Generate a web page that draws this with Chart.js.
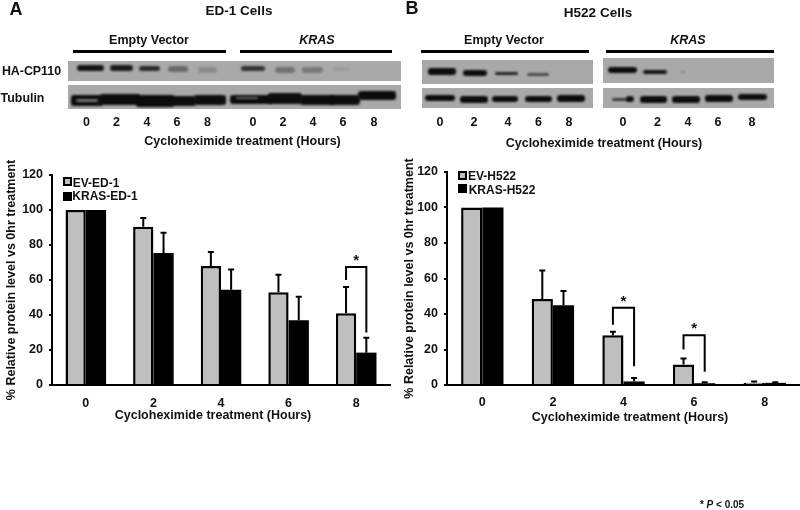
<!DOCTYPE html>
<html>
<head>
<meta charset="utf-8">
<script src="https://cdn.jsdelivr.net/npm/chart.js@4"></script>
<style>
  html, body { margin: 0; padding: 0; background: #fff; }
  #page { position: relative; width: 800px; height: 510px; overflow: hidden; filter: blur(0.4px);
    font-family: "Liberation Sans", Arial, sans-serif; font-weight: bold; color: #111; }
  #page canvas { position: absolute; }
  .txt { position: absolute; white-space: nowrap; transform: translate(-50%, -50%); }
  .strip { position: absolute; background: #a9a9a9; overflow: hidden; }
  .band { position: absolute; background: #0c0c0c; border-radius: 3px; filter: blur(1px); }
  .rule { position: absolute; height: 3px; background: #000; }
  .key { position: absolute; width: 5px; height: 5px; border: 2px solid #000; }
</style>
</head>
<body>
<div id="page">
  <canvas id="chartA" width="400" height="270" style="left:0;top:150px"></canvas>
  <canvas id="chartB" width="400" height="270" style="left:400px;top:150px"></canvas>
</div>
<script>
  const hours = ["0", "2", "4", "6", "8"];
  const seriesNamesA = ["EV-ED-1", "KRAS-ED-1"];
  const seriesNamesB = ["EV-H522", "KRAS-H522"];

  const evEd1 = [100, 90.5, 68, 53, 41];
  const krasEd1 = [100, 75.5, 54.5, 37, 18.5];
  const evEd1Top = [100, 95.5, 76, 63, 56];
  const krasEd1Top = [100, 87, 66, 50.5, 27];

  const evH522 = [100, 48.5, 28, 11.5, 1.2];
  const krasH522 = [100, 45, 2, 1, 1.2];
  const evH522Top = [100, 64.5, 30, 15, 2];
  const krasH522Top = [100, 53, 4, 1.5, 1.5];

  // significance brackets: category index, top, left foot, right foot (in % units)
  const bracketsA = [[4, 67.5, 60, 30]];
  const bracketsB = [[2, 43.5, 34, 10.5], [3, 28, 20, 7.5]];

  const page = document.getElementById("page");

  function addText(str, x, y, size, extra) {
    const el = document.createElement("div");
    el.className = "txt";
    el.innerHTML = str;
    el.style.left = x + "px";
    el.style.top = y + "px";
    el.style.fontSize = size + "px";
    if (extra) el.style.cssText += extra;
    page.appendChild(el);
  }

  function addStrip(x, y, w, h, bands) {
    const strip = document.createElement("div");
    strip.className = "strip";
    strip.style.cssText = `left:${x}px;top:${y}px;width:${w}px;height:${h}px`;
    bands.forEach(([bx, by, bw, bh, alpha, colour]) => {
      const b = document.createElement("div");
      b.className = "band";
      b.style.cssText = `left:${bx - x}px;top:${by - y}px;width:${bw}px;height:${bh}px;opacity:${alpha}`;
      if (colour) b.style.background = colour;
      strip.appendChild(b);
    });
    page.appendChild(strip);
  }

  function addRule(x, y, w) {
    const r = document.createElement("div");
    r.className = "rule";
    r.style.cssText = `left:${x}px;top:${y}px;width:${w}px`;
    page.appendChild(r);
  }

  function addKey(x, y, fill) {
    const k = document.createElement("div");
    k.className = "key";
    k.style.cssText = `left:${x}px;top:${y}px;background:${fill}`;
    page.appendChild(k);
  }

  // blots, panel A
  addStrip(68, 61, 333, 20, [
    [77, 65, 27, 6, 0.95], [110, 65, 23, 6, 0.9], [139, 66, 21, 5, 0.8], [168, 66, 20, 6, 0.4], [198, 67, 19, 6, 0.18],
    [241, 66, 24, 5, 0.75], [275, 67, 20, 6, 0.35], [302, 67, 21, 6, 0.3], [333, 67, 17, 4, 0.08]
  ]);
  addStrip(68, 85, 333, 24, [
    [71, 95, 32, 11, 1], [100, 94, 40, 11, 1], [136, 95, 38, 12, 1], [170, 96, 26, 10, 1], [194, 95, 32, 10, 1],
    [230, 95, 42, 9, 1], [268, 93, 34, 11, 1], [300, 95, 34, 10, 1], [330, 95, 30, 10, 1], [358, 91, 38, 9, 1],
    [76, 99, 22, 3, 0.8, "#8c8c8c"], [236, 97, 22, 2, 0.7, "#8c8c8c"]
  ]);
  // blots, panel B
  addStrip(422, 60, 171, 24, [
    [428, 68, 28, 7, 1], [463, 70, 24, 6, 1], [495, 72, 23, 3, 0.85], [527, 73, 22, 3, 0.6]
  ]);
  addStrip(603, 58, 171, 25, [
    [608, 67, 29, 6, 1], [643, 70, 24, 4, 0.95], [680, 71, 6, 2, 0.2]
  ]);
  addStrip(422, 88, 171, 20, [
    [425, 95, 30, 6, 1], [460, 96, 28, 7, 1], [492, 96, 26, 6, 1], [525, 96, 27, 6, 1], [557, 95, 28, 7, 1]
  ]);
  addStrip(603, 88, 171, 20, [
    [612, 98, 20, 3, 0.7], [626, 96, 8, 6, 0.9], [640, 96, 27, 7, 1], [672, 96, 28, 7, 1], [705, 95, 28, 7, 1], [738, 94, 29, 6, 1]
  ]);

  addRule(73, 50, 153);
  addRule(240, 50, 152);
  addRule(421, 50, 168);
  addRule(606, 50, 168);

  addText("A", 16, 9, 18);
  addText("B", 412, 8, 18);
  addText("ED-1 Cells", 239, 10, 13.5);
  addText("H522 Cells", 598, 12, 13.5);
  addText("Empty Vector", 149, 40, 12.5);
  addText("<i>KRAS</i>", 317, 40, 12.5);
  addText("Empty Vector", 504, 40, 12.5);
  addText("<i>KRAS</i>", 688, 40, 12.5);
  addText("HA-CP110", 31.5, 71, 12.4);
  addText("Tubulin", 22.5, 98, 12.4);

  [86.5, 116.5, 147, 177, 207.5, 253, 283, 313, 343, 374].forEach((x, i) => addText(hours[i % 5], x, 122, 12.5));
  [440, 474, 508, 538.6, 569, 623, 657.6, 688, 718, 752].forEach((x, i) => addText(hours[i % 5], x, 122, 12.5));

  addText("Cycloheximide treatment (Hours)", 242.5, 141, 12.5);
  addText("Cycloheximide treatment (Hours)", 604, 143, 12.5);
  addText("Cycloheximide treatment (Hours)", 213, 415, 12.5);
  addText("Cycloheximide treatment (Hours)", 630, 417, 12.5);
  addText("* <i>P</i> &lt; 0.05", 722, 504, 10);

  addKey(63, 177, "#bfbfbf");
  addKey(63, 192, "#000");
  addText(seriesNamesA[0], 96, 183, 12);
  addText(seriesNamesA[1], 105, 196, 12);
  addKey(458, 171, "#bfbfbf");
  addKey(458, 184, "#000");
  addText(seriesNamesB[0], 492, 176, 12);
  addText(seriesNamesB[1], 502, 190, 12);

  const errorBars = {
    id: "errorBars",
    afterDatasetsDraw(chart, args, opts) {
      const { ctx, scales: { y } } = chart;
      ctx.save();
      ctx.strokeStyle = "#000";
      ctx.lineWidth = 2;
      opts.tops.forEach((tops, d) => {
        chart.getDatasetMeta(d).data.forEach((bar, i) => {
          if (tops[i] <= chart.data.datasets[d].data[i]) return;
          const top = y.getPixelForValue(tops[i]);
          ctx.beginPath();
          ctx.moveTo(bar.x, bar.y);
          ctx.lineTo(bar.x, top);
          ctx.moveTo(bar.x - 3, top);
          ctx.lineTo(bar.x + 3, top);
          ctx.stroke();
        });
      });
      opts.brackets.forEach(([i, top, leftFoot, rightFoot]) => {
        const xl = chart.getDatasetMeta(0).data[i].x;
        const xr = chart.getDatasetMeta(1).data[i].x;
        ctx.beginPath();
        ctx.moveTo(xl, y.getPixelForValue(leftFoot));
        ctx.lineTo(xl, y.getPixelForValue(top));
        ctx.lineTo(xr, y.getPixelForValue(top));
        ctx.lineTo(xr, y.getPixelForValue(rightFoot));
        ctx.stroke();
        ctx.fillStyle = "#111";
        ctx.font = "bold 15px 'Liberation Sans'";
        ctx.textAlign = "center";
        ctx.textBaseline = "middle";
        ctx.fillText("*", (xl + xr) / 2, y.getPixelForValue(top) - 6);
      });
      ctx.restore();
    }
  };

  function makeChart(id, names, ev, kras, evTop, krasTop, brackets, box) {
    return new Chart(document.getElementById(id), {
      type: "bar",
      data: {
        labels: hours,
        datasets: [
          { label: names[0], data: ev, backgroundColor: "#bfbfbf", borderColor: "#000", borderWidth: 2.5 },
          { label: names[1], data: kras, backgroundColor: "#000", borderWidth: 0 }
        ]
      },
      options: {
        responsive: false,
        animation: false,
        categoryPercentage: 0.6,
        barPercentage: 1,
        layout: { padding: { left: 0, top: box.top, right: box.right, bottom: 0 } },
        plugins: {
          legend: { display: false },
          tooltip: { enabled: false },
          errorBars: { tops: [evTop, krasTop], brackets }
        },
        scales: {
          x: {
            grid: { display: false },
            border: { display: true, color: "#000", width: 2 },
            ticks: { color: "#111", padding: box.xPad, font: { size: 12.5, weight: "bold", family: "Liberation Sans" } },
            afterFit: (s) => { s.height = box.xHeight; }
          },
          y: {
            min: 0,
            max: 120,
            grid: { drawOnChartArea: false, color: "#000", lineWidth: 2, tickLength: 3 },
            border: { display: true, color: "#000", width: 2 },
            ticks: { stepSize: 20, color: "#111", padding: 6, font: { size: 12.5, weight: "bold", family: "Liberation Sans" } },
            title: {
              display: true,
              text: "% Relative protein level vs 0hr treatment",
              color: "#111",
              padding: { top: box.titlePad, bottom: 0 },
              font: { size: 12.5, weight: "bold", family: "Liberation Sans" }
            },
            afterFit: (s) => { s.width = box.yWidth; }
          }
        }
      },
      plugins: [errorBars]
    });
  }

  makeChart("chartA", seriesNamesA, evEd1, krasEd1, evEd1Top, krasEd1Top, bracketsA,
    { top: 25, right: 10, xHeight: 35, yWidth: 52, xPad: 3, titlePad: 4.5 });
  makeChart("chartB", seriesNamesB, evH522, krasH522, evH522Top, krasH522Top, bracketsB,
    { top: 22, right: 0, xHeight: 35, yWidth: 47, xPad: 2, titlePad: 2 });
</script>
</body>
</html>
